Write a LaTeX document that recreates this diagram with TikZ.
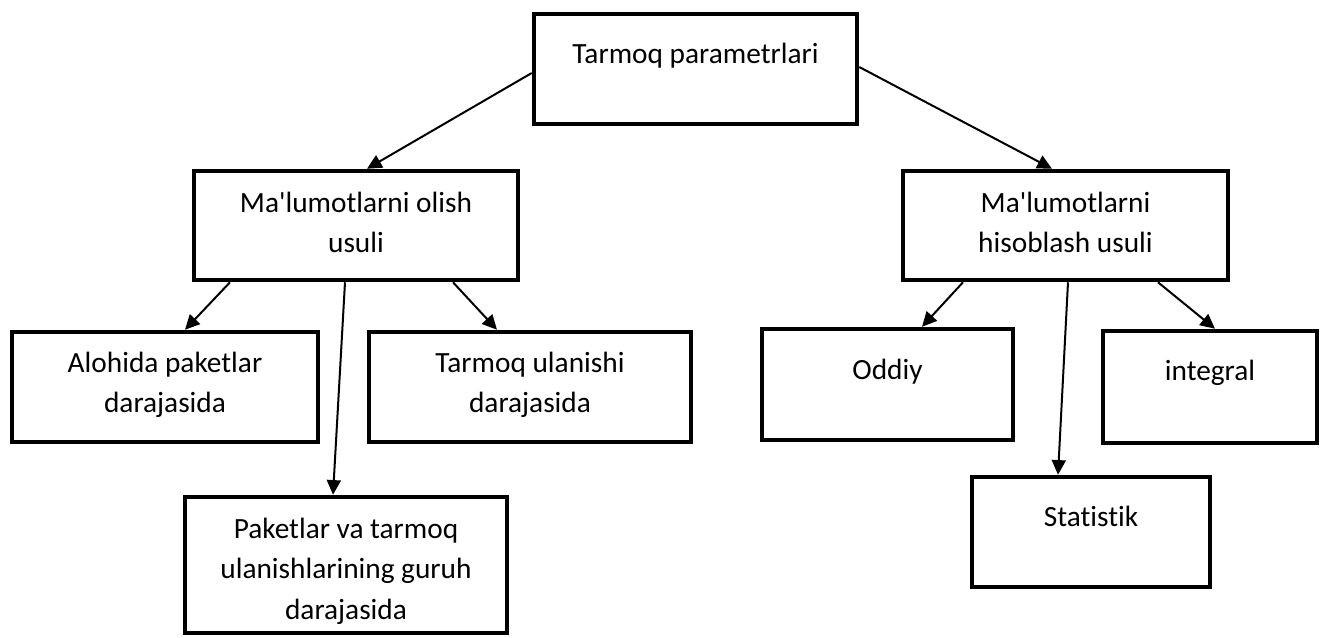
\documentclass[tikz,border=0pt]{standalone}
\usepackage{fontspec}
\setmainfont{Carlito}[Ligatures={TeXOff,NoCommon}]
\usetikzlibrary{calc,arrows.meta}
\begin{document}
\begin{tikzpicture}[x=0.75pt,y=-0.75pt,
  box/.style={draw=black,line width=3.4pt,rectangle,inner sep=0pt},
  txt/.style={anchor=north,inner sep=0pt,align=center,font=\fontsize{22}{30.4}\selectfont},
  conn/.style={line width=1.5pt,-{Triangle[length=11pt,width=10.5pt]}}]
\useasboundingbox (0,0) rectangle (1322,637);
% boxes
\node[box,minimum width=323*0.75pt,minimum height=110*0.75pt] (top) at (695.5,69) {};
\node[box,minimum width=324*0.75pt,minimum height=109*0.75pt] (lm) at (356,225.5) {};
\node[box,minimum width=325*0.75pt,minimum height=109*0.75pt] (rm) at (1065.5,225.5) {};
\node[box,minimum width=306*0.75pt,minimum height=110*0.75pt] (alo) at (165,387) {};
\node[box,minimum width=322*0.75pt,minimum height=110*0.75pt] (tu) at (530,387) {};
\node[box,minimum width=251*0.75pt,minimum height=111*0.75pt] (odd) at (887.5,384.5) {};
\node[box,minimum width=214*0.75pt,minimum height=112*0.75pt] (int) at (1210,387) {};
\node[box,minimum width=322*0.75pt,minimum height=136*0.75pt] (pak) at (346,565) {};
\node[box,minimum width=238*0.75pt,minimum height=110*0.75pt] (sta) at (1091,532) {};
% texts
\node[txt] (ttop) at (695.5,39.5) {\rule{0pt}{17.6pt}Tarmoq parametrlari};
\node[txt] (tlm) at (356,188.5) {\rule{0pt}{17.6pt}Ma'lumotlarni olish\\usuli};
\node[txt] (trm) at (1065.5,188.5) {\rule{0pt}{17.6pt}Ma'lumotlarni\\hisoblash usuli};
\node[txt] (talo) at (165,348.5) {\rule{0pt}{17.6pt}Alohida paketlar\\darajasida};
\node[txt] (ttu) at (530,348.5) {\rule{0pt}{17.6pt}Tarmoq ulanishi\\darajasida};
\node[txt] (todd) at (887.5,355.5) {\rule{0pt}{17.6pt}Oddiy};
\node[txt] (tint) at (1210,356.5) {\rule{0pt}{17.6pt}integral};
\node[txt] (tsta) at (1091,502.5) {\rule{0pt}{17.6pt}Statistik};
\node[txt] (tpak) at (346,514.5) {\rule{0pt}{17.6pt}Paketlar va tarmoq\\ulanishlarining guruh\\darajasida};
% connectors
\draw[conn] ($(top.west)+(0,4)$) -- ($(lm.north)+(11,0)$);
\draw[conn] ($(top.east)+(0,-2)$) -- ($(rm.north)+(-13.5,0)$);
\draw[conn] ($(lm.south)+(-126,0)$) -- ($(alo.north)+(20,0)$);
\draw[conn] ($(lm.south)+(-11,0)$) -- ($(pak.north)+(-13,0)$);
\draw[conn] ($(lm.south)+(97,0)$) -- ($(tu.north)+(-33,0)$);
\draw[conn] ($(rm.south)+(-102.5,0)$) -- ($(odd.north)+(34.5,0)$);
\draw[conn] ($(rm.south)+(2.5,0)$) -- ($(sta.north)+(-33,0)$);
\draw[conn] ($(rm.south)+(92.5,0)$) -- ($(int.north)+(5,0)$);
\end{tikzpicture}
\end{document}
